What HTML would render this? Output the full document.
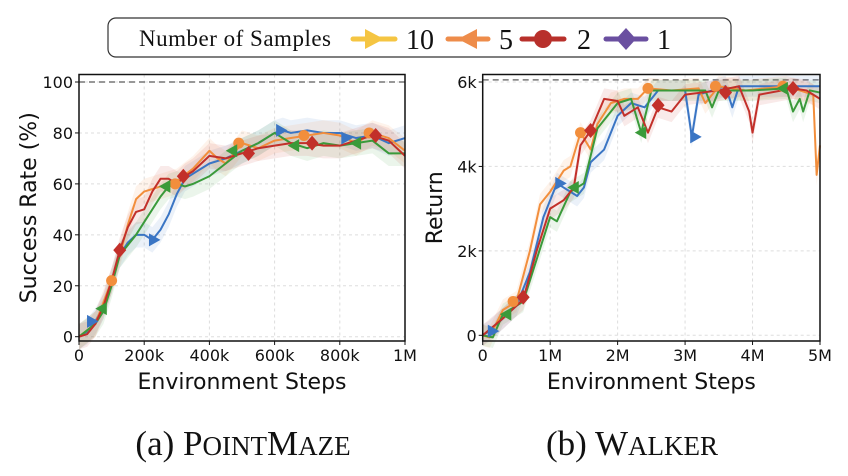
<!DOCTYPE html>
<html><head><meta charset="utf-8"><style>
body{margin:0;background:#fff;width:848px;height:476px;overflow:hidden}
svg{display:block}
.tk{font-family:"DejaVu Sans","Liberation Sans",sans-serif;font-size:16px;fill:#111}
.ttl{font-family:"DejaVu Sans","Liberation Sans",sans-serif;font-size:22px;fill:#111}
.ser{font-family:"Liberation Serif",serif;fill:#111}
</style></head><body>
<svg id="fig" width="848" height="476">
<g>
<rect x="108" y="18" width="623" height="39" rx="8" fill="#fff" stroke="#333" stroke-width="1.2"/>
<text class="ser" x="139" y="46" font-size="23" textLength="192">Number of Samples</text>
<g><line x1="353" y1="39" x2="395" y2="39" stroke="#f5c542" stroke-width="5" stroke-linecap="round"/><polygon points="365,29 384,39 365,49" fill="#f5c542"/><text class="ser" x="406" y="49" font-size="28">10</text></g>
<g><line x1="448" y1="39" x2="488" y2="39" stroke="#ee8c4a" stroke-width="5" stroke-linecap="round"/><polygon points="477,29 458,39 477,49" fill="#ee8c4a"/><text class="ser" x="499" y="49" font-size="28">5</text></g>
<g><line x1="522" y1="39" x2="564" y2="39" stroke="#b8302b" stroke-width="5" stroke-linecap="round"/><circle cx="543" cy="39" r="9" fill="#b8302b"/><text class="ser" x="577" y="49" font-size="28">2</text></g>
<g><line x1="606" y1="39" x2="646" y2="39" stroke="#6a4fa0" stroke-width="5" stroke-linecap="round"/><polygon points="626,28 636,39 626,50 616,39" fill="#6a4fa0"/><text class="ser" x="657" y="49" font-size="28">1</text></g>
</g>
<text class="ser" x="243" y="455" font-size="35" text-anchor="middle">(a) P<tspan font-size="27">OINT</tspan>M<tspan font-size="27">AZE</tspan></text>
<text class="ser" x="632" y="455" font-size="35" text-anchor="middle">(b) W<tspan font-size="27">ALKER</tspan></text>
</svg>
<script>
// ---- PointMaze data (x in k steps, y in %)
const pmBlueX=[0,25,50,75,100,125,150,175,200,225,250,275,300,325,350,400,450,500,550,600,625,650,700,750,800,850,900,950,1000];
const pmBlueY=[0,2,6,12,22,32,37,40,40,38,42,48,56,62,64,68,70,73,76,80,81,80,81,80,80,78,79,76,78];
const pmOrangeX=[0,50,100,125,150,175,200,250,300,350,400,425,450,500,550,600,650,700,750,800,850,900,950,1000];
const pmOrangeY=[0,5,22,32,44,54,57,59,61,66,73,70,68,76,74,77,78,79,80,79,76,80,78,73];
const pmGreenX=[0,50,75,100,125,150,175,200,250,275,300,325,350,400,450,500,550,600,650,700,750,800,850,900,950,1000];
const pmGreenY=[0,5,10,20,32,36,40,45,55,59,60,59,60,63,68,73,76,80,76,74,76,75,76,77,72,72];
const pmRedX=[0,25,50,75,100,125,150,175,200,225,250,275,300,325,350,400,450,500,550,600,650,700,750,800,850,900,950,1000];
const pmRedY=[0,1,5,12,22,34,43,49,50,57,62,62,60,63,65,71,70,72,74,75,76,76,75,75,77,79,77,71];
const pmBlueMk=[[40,6],[230,38],[620,81],[820,78]];
const pmOrangeMk=[[100,22],[295,60],[490,76],[690,79],[890,80]];
const pmGreenMk=[[70,11],[265,59],[470,73],[660,75],[850,76]];
const pmRedMk=[[125,34],[320,63],[520,72],[715,76],[910,79]];
const pmXTicks=[0,200,400,600,800,1000];
const pmXLabels=["0","200k","400k","600k","800k","1M"];
const pmYTicks=[0,20,40,60,80,100];
const pmYLabels=["0","20","40","60","80","100"];
// ---- Walker data (x in M steps, y in k return)
const wkBlueX=[0,0.1,0.3,0.5,0.7,0.9,1.1,1.2,1.4,1.5,1.6,1.8,2.0,2.2,2.4,2.6,3.0,3.1,3.2,3.6,3.7,3.8,4.4,5.0];
const wkBlueY=[0,0.1,0.4,0.7,1.5,2.8,3.6,3.5,3.3,3.5,4.1,4.4,5.2,5.5,5.4,5.8,5.8,4.7,5.7,5.9,5.4,5.9,5.9,5.9];
const wkOrangeX=[0,0.1,0.3,0.5,0.7,0.85,1.0,1.2,1.3,1.45,1.6,1.7,1.9,2.1,2.3,2.45,2.8,3.2,3.3,3.5,3.9,4.5,4.9,4.95,5.0];
const wkOrangeY=[0,-0.05,0.6,0.8,2.0,3.1,3.4,3.9,4.0,4.8,4.4,5.0,5.5,5.6,5.6,5.85,5.8,5.85,5.5,5.9,5.8,5.9,5.7,3.8,4.5];
const wkGreenX=[0,0.15,0.3,0.6,0.8,1.0,1.1,1.3,1.5,1.7,2.0,2.2,2.35,2.5,3.0,3.3,3.4,3.5,4.0,4.5,4.6,4.7,4.75,4.85,5.0];
const wkGreenY=[0,-0.05,0.5,0.8,1.8,2.8,2.7,3.4,3.6,4.9,5.5,5.6,4.8,5.8,5.8,5.8,5.4,5.8,5.8,5.85,5.3,5.6,5.3,5.8,5.75];
const wkRedX=[0,0.3,0.6,0.8,1.0,1.2,1.35,1.45,1.6,1.8,2.0,2.1,2.3,2.45,2.6,2.8,3.0,3.5,3.8,3.95,4.0,4.1,4.6,4.8,5.0];
const wkRedY=[0,0.4,0.85,2.0,3.0,3.2,3.5,4.5,4.85,5.6,5.55,5.2,5.4,4.8,5.4,5.3,5.7,5.8,5.9,5.3,4.8,5.7,5.85,5.8,5.6];
const wkBlueMk=[[0.15,0.1],[1.15,3.6],[3.15,4.7]];
const wkOrangeMk=[[0.45,0.8],[1.45,4.8],[2.45,5.85],[3.45,5.9],[4.45,5.9]];
const wkGreenMk=[[0.35,0.5],[1.35,3.5],[2.35,4.8],[4.45,5.85]];
const wkRedMk=[[0.6,0.9],[1.6,4.85],[2.6,5.45],[3.6,5.75],[4.6,5.85]];
const wkXTicks=[0,1,2,3,4,5];
const wkXLabels=["0","1M","2M","3M","4M","5M"];
const wkYTicks=[0,2,4,6];
const wkYLabels=["0","2k","4k","6k"];

const NS="http://www.w3.org/2000/svg";
const fig=document.getElementById('fig');
const COL={blue:"#3a75c4",orange:"#f28e3c",green:"#3a9a3a",red:"#c2302a"};
function mk(tag,attrs,parent){const e=document.createElementNS(NS,tag);for(const k in attrs)e.setAttribute(k,attrs[k]);parent.appendChild(e);return e;}
function marker(g,shape,px,py,c){
  let e;
  if(shape==='circle'){e=mk('circle',{cx:px,cy:py,r:5.5,fill:c},g);}
  else if(shape==='diamond'){e=mk('polygon',{points:`${px},${py-7.5} ${px+6.5},${py} ${px},${py+7.5} ${px-6.5},${py}`,fill:c},g);}
  else if(shape==='right'){e=mk('polygon',{points:`${px-5},${py-6.5} ${px+6.5},${py} ${px-5},${py+6.5}`,fill:c},g);}
  else {e=mk('polygon',{points:`${px+5},${py-6.5} ${px-6.5},${py} ${px+5},${py+6.5}`,fill:c},g);}
  return e;
}
function chart(o){
  const g=mk('g',{},fig);
  
  
  const sx=v=>o.x0+(v-o.xmin)/(o.xmax-o.xmin)*(o.x1-o.x0);
  const sy=v=>o.yb+(v-o.ymin)/(o.ymax-o.ymin)*(o.yt-o.yb);
  o.xt.forEach(v=>{const l=mk('line',{x1:sx(v),x2:sx(v),y1:o.top,y2:o.bot,stroke:"#ddd","stroke-dasharray":"3,3"},g);});
  o.yt_.forEach(v=>{const l=mk('line',{x1:o.x0,x2:o.x1,y1:sy(v),y2:sy(v),stroke:"#ddd","stroke-dasharray":"3,3"},g);});
  const ref=mk('line',{x1:o.x0,x2:o.x1,y1:sy(o.ref),y2:sy(o.ref),stroke:"#777","stroke-width":1.5,"stroke-dasharray":"6,4"},g);
  
  
  o.series.forEach(s=>{
    let up=s.x.map((v,i)=>`${sx(v)},${sy(s.y[i]+o.band)}`);
    let dn=s.x.map((v,i)=>`${sx(v)},${sy(s.y[i]-o.band)}`).reverse();
    const b=mk('polygon',{points:up.concat(dn).join(' '),fill:s.c,opacity:0.1},g);
    
    
  });
  o.series.forEach(s=>{
    const p=mk('polyline',{points:s.x.map((v,i)=>`${sx(v)},${sy(s.y[i])}`).join(' '),fill:'none',stroke:s.c,'stroke-width':2,'stroke-linejoin':'round'},g);
    
    
  });
  o.series.forEach(s=>{
    s.m.forEach(m=>{const e=marker(g,s.shape,sx(m[0]),sy(m[1]),s.c);
      
      });
  });
  const fr=mk('rect',{x:o.x0,y:o.top,width:o.x1-o.x0,height:o.bot-o.top,fill:'none',stroke:'#111','stroke-width':1.5},g);
  
  
  o.xt.forEach((v,i)=>{
    mk('line',{x1:sx(v),x2:sx(v),y1:o.bot,y2:o.bot+4,stroke:'#111'},g);
    const t=mk('text',{x:sx(v),y:o.bot+20,'text-anchor':'middle',class:'tk'},g);t.textContent=o.xl[i];
    
    
  });
  o.yt_.forEach((v,i)=>{
    mk('line',{x1:o.x0-4,x2:o.x0,y1:sy(v),y2:sy(v),stroke:'#111'},g);
    const t=mk('text',{x:o.x0-6,y:sy(v)+6,'text-anchor':'end',class:'tk'},g);t.textContent=o.yl[i];
    
    
  });
  const xt=mk('text',{x:(o.x0+o.x1)/2,y:389,'text-anchor':'middle',class:'ttl'},g);xt.textContent='Environment Steps';
  
  
  const yt=mk('text',{x:0,y:0,'text-anchor':'middle',class:'ttl',transform:`translate(${o.ytx},${(o.top+o.bot)/2}) rotate(-90)`},g);yt.textContent=o.ytitle;
  
  
}
chart({name:'pointmaze-chart',x0:79,x1:405,top:74.5,bot:341,xmin:0,xmax:1000,ymin:0,ymax:100,yb:336.7,yt:82,
  xt:pmXTicks,xl:pmXLabels,yt_:pmYTicks,yl:pmYLabels,ref:100,band:5,ytx:36,ytitle:'Success Rate (%)',
  series:[{n:'samples-1',x:pmBlueX,y:pmBlueY,m:pmBlueMk,c:COL.blue,shape:'right'},
          {n:'samples-5',x:pmOrangeX,y:pmOrangeY,m:pmOrangeMk,c:COL.orange,shape:'circle'},
          {n:'samples-2',x:pmGreenX,y:pmGreenY,m:pmGreenMk,c:COL.green,shape:'left'},
          {n:'samples-10',x:pmRedX,y:pmRedY,m:pmRedMk,c:COL.red,shape:'diamond'}]});
chart({name:'walker-chart',x0:482.7,x1:820,top:74.5,bot:341,xmin:0,xmax:5,ymin:0,ymax:6,yb:335.3,yt:82,
  xt:wkXTicks,xl:wkXLabels,yt_:wkYTicks,yl:wkYLabels,ref:6.05,band:0.25,ytx:442,ytitle:'Return',
  series:[{n:'samples-1',x:wkBlueX,y:wkBlueY,m:wkBlueMk,c:COL.blue,shape:'right'},
          {n:'samples-5',x:wkOrangeX,y:wkOrangeY,m:wkOrangeMk,c:COL.orange,shape:'circle'},
          {n:'samples-2',x:wkGreenX,y:wkGreenY,m:wkGreenMk,c:COL.green,shape:'left'},
          {n:'samples-10',x:wkRedX,y:wkRedY,m:wkRedMk,c:COL.red,shape:'diamond'}]});
</script>
</body></html>
